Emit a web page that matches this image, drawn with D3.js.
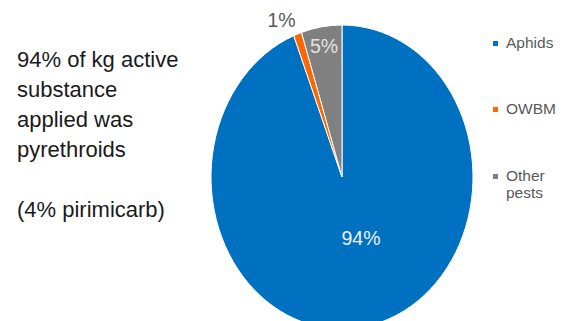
<!DOCTYPE html>
<html>
<head>
<meta charset="utf-8">
<script src="https://cdn.jsdelivr.net/npm/d3@7"></script>
<style>
  body { margin: 0; background: #fff; }
  svg { display: block; font-family: "Liberation Sans", Arial, sans-serif; }
</style>
</head>
<body>
<script>
var categories = ["Aphids", "OWBM", "Other pests"];
var shares = [94, 1, 5];
var colors = ["#0070C0", "#FF6600", "#808080"];
var noteLines = ["94% of kg active", "substance", "applied was", "pyrethroids", "", "(4% pirimicarb)"];

var width = 563, height = 321;
var cx = 342, cy = 177, rx = 131, ry = 152;

var svg = d3.select("body").append("svg")
    .attr("width", width)
    .attr("height", height);

var data = categories.map((c, i) => ({ name: c, value: shares[i], color: colors[i] }));

var pie = d3.pie().sort(null).value((d) => d.value);
var arc = d3.arc().innerRadius(0).outerRadius(rx);
var arcs = pie(data);

// pie is stretched vertically in the original
var g = svg.append("g")
    .attr("transform", "translate(" + cx + "," + cy + ") scale(1," + (ry / rx) + ")");

g.selectAll("path")
    .data(arcs)
    .enter()
    .append("path")
    .attr("d", arc)
    .attr("fill", (d) => d.data.color)
    .attr("stroke", "#fff")
    .attr("stroke-width", 1)
    .attr("vector-effect", "non-scaling-stroke");

// data labels
var labelPos = [
    { x: 361, y: 245, fill: "#eef3f9" },
    { x: 281.5, y: 27, fill: "#595959" },
    { x: 324, y: 53, fill: "#e3e3e3" }
];
svg.selectAll("text.lbl")
    .data(arcs)
    .enter()
    .append("text")
    .attr("class", "lbl")
    .attr("x", (d, i) => labelPos[i].x)
    .attr("y", (d, i) => labelPos[i].y)
    .attr("text-anchor", "middle")
    .attr("font-size", "19.5px")
    .attr("fill", (d, i) => labelPos[i].fill)
    .text((d) => d.data.value + "%");

// legend
var legendY = [48, 114, 181];
var leg = svg.selectAll("g.leg")
    .data(data)
    .enter()
    .append("g")
    .attr("class", "leg")
    .attr("transform", (d, i) => "translate(493," + legendY[i] + ")");

leg.append("rect")
    .attr("x", 0)
    .attr("y", -7)
    .attr("width", 5)
    .attr("height", 5)
    .attr("fill", (d) => d.color);

leg.append("text")
    .attr("x", 13)
    .attr("y", 0)
    .attr("font-size", "15.5px")
    .attr("fill", "#595959")
    .each(function(d) {
        var words = d.name.split(" ");
        var t = d3.select(this);
        words.forEach((w, j) => {
            t.append("tspan").attr("x", 13).attr("dy", j === 0 ? 0 : 17).text(w);
        });
    });

// side note
svg.append("text")
    .attr("font-size", "22px")
    .attr("fill", "#1a1a1a")
    .selectAll("tspan")
    .data(noteLines)
    .enter()
    .append("tspan")
    .attr("x", 17)
    .attr("y", (d, i) => 67 + i * 30)
    .text((d) => d);
</script>
</body>
</html>
